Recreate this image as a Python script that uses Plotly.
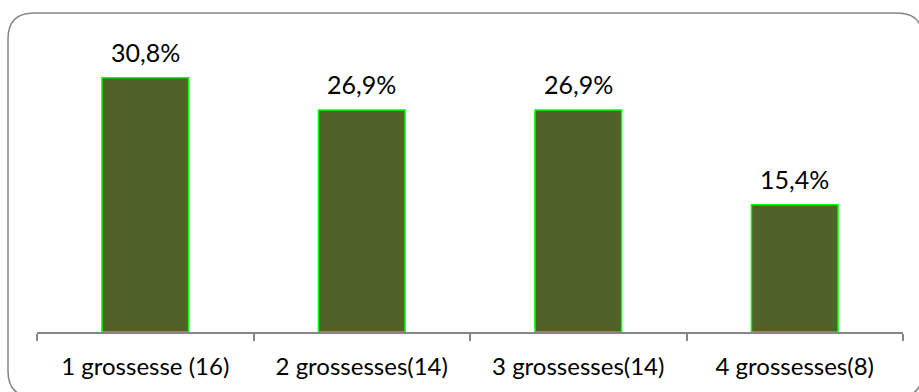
import plotly.graph_objects as go

categories = ["1 grossesse (16)", "2 grossesses(14)", "3 grossesses(14)", "4 grossesses(8)"]
values = [30.8, 26.9, 26.9, 15.4]
labels = ["30,8%", "26,9%", "26,9%", "15,4%"]

W, H = 919, 392
L, R, T, B = 37, 16, 43, 60
pw, ph = W - L - R, H - T - B

def px(x):
    return (x - L) / pw

def py(y):
    return (H - B - y) / ph

FONT = "Lato"

fig = go.Figure()
fig.add_trace(go.Bar(
    x=categories, y=values,
    marker=dict(color="#4F6228", line=dict(color="#00FF00", width=1.5)),
    width=0.4,
))

for c, v, t in zip(categories, values, labels):
    fig.add_annotation(x=c, y=v, text=t, showarrow=False, yanchor="middle",
                       yshift=26, font=dict(family=FONT, size=25, color="#000000"))

# rounded border
x0, x1, y0, y1, r = 8, 923, 13, 397, 26
path = (f"M {px(x0+r)} {py(y0)} L {px(x1-r)} {py(y0)} "
        f"Q {px(x1)} {py(y0)} {px(x1)} {py(y0+r)} L {px(x1)} {py(y1-r)} "
        f"Q {px(x1)} {py(y1)} {px(x1-r)} {py(y1)} L {px(x0+r)} {py(y1)} "
        f"Q {px(x0)} {py(y1)} {px(x0)} {py(y1-r)} L {px(x0)} {py(y0+r)} "
        f"Q {px(x0)} {py(y0)} {px(x0+r)} {py(y0)} Z")
fig.add_shape(type="path", path=path, xref="paper", yref="paper",
              line=dict(color="#868686", width=1.5), layer="below")

fig.update_layout(
    width=W, height=H,
    margin=dict(l=L, r=R, t=T, b=B),
    paper_bgcolor="white", plot_bgcolor="white",
    showlegend=False,
    bargap=0.6,
    font=dict(family=FONT, size=24, color="#000000"),
    xaxis=dict(showline=True, linecolor="#868686", linewidth=1.5,
               ticks="outside", tickson="boundaries", ticklen=7,
               tickcolor="#868686", tickwidth=1.5,
               ticklabelstandoff=12,
               tickfont=dict(family=FONT, size=24, color="#000000"),
               showgrid=False, zeroline=False),
    yaxis=dict(range=[0, 35], visible=False, showgrid=False, zeroline=False),
)

fig.write_html("out.html")
